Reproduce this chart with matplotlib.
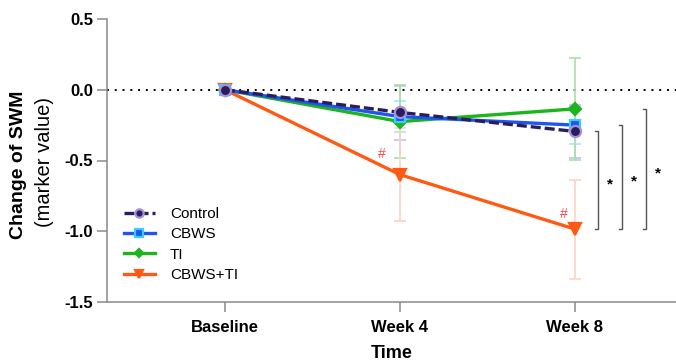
import matplotlib.pyplot as plt

plt.rcParams['font.family'] = ['Liberation Sans', 'DejaVu Sans']
plt.rcParams['axes.unicode_minus'] = False

# data
timepoints = ["Baseline", "Week 4", "Week 8"]
groups = ["Control", "CBWS", "TI", "CBWS+TI"]
control_mean = [0.0, -0.16, -0.295]
control_sd = [0.0, 0.195, 0.19]
cbws_mean = [0.0, -0.19, -0.25]
cbws_sd = [0.0, 0.11, 0.13]
ti_mean = [0.0, -0.225, -0.135]
ti_sd = [0.0, 0.255, 0.36]
combo_mean = [0.0, -0.60, -0.985]
combo_sd = [0.0, 0.33, 0.35]
y_ticks = [0.5, 0.0, -0.5, -1.0, -1.5]

means = [control_mean, cbws_mean, ti_mean, combo_mean]
sds = [control_sd, cbws_sd, ti_sd, combo_sd]

# style per group: line colour, error colour, marker, face, edge, linestyle
styles = [
    dict(color="#2a1d5c", ecolor="#cbbde9", marker="o", mfc="#2a1d5c", mec="#a88fdc", ls=(0, (3, 1.2)), ms=8),
    dict(color="#1e55f0", ecolor="#a9e3fb", marker="s", mfc="#1e55f0", mec="#38cffc", ls="-", ms=7.5),
    dict(color="#1db41d", ecolor="#a8e2a8", marker="D", mfc="#1db41d", mec="#1db41d", ls="-", ms=6),
    dict(color="#ff5a14", ecolor="#ffd3c2", marker="v", mfc="#ff5a14", mec="#ff5a14", ls="-", ms=8),
]
zorders = [6, 5, 4, 3]

fig = plt.figure(figsize=(6.76, 3.64), dpi=100)
ax = fig.add_axes([107 / 676, 1 - 302 / 364, 1 - 107 / 676, (302 - 19) / 364])

x = list(range(len(timepoints)))

ax.axhline(0, color="black", ls=(0, (1, 3)), lw=1.4, zorder=1)

for m, s, st, z in zip(means, sds, styles, zorders):
    ax.errorbar(x, m, yerr=s, fmt="none", ecolor=st["ecolor"], elinewidth=1.2,
                capsize=4, capthick=1.2, zorder=2)

handles = []
for m, st, z, name in zip(means, styles, zorders, groups):
    h, = ax.plot(x, m, color=st["color"], ls=st["ls"], lw=2.4, marker=st["marker"],
                 ms=st["ms"], mfc=st["mfc"], mec=st["mec"], mew=1.6, zorder=z, label=name)
    handles.append(h)

# "#" marks vs baseline for the combo group
for xi, off in [(1, (-13, 10)), (2, (-8, 6))]:
    ax.annotate("#", (x[xi], combo_mean[xi]), xytext=off, textcoords="offset points",
                color="#ff4a4a", fontsize=10, ha="center", va="bottom")

# significance brackets at week 8
bx = [2.131, 2.269, 2.406]
tops = [control_mean[2], cbws_mean[2], ti_mean[2]]
bottom = combo_mean[2]
for xb, top in zip(bx, tops):
    ax.plot([xb - 0.018, xb, xb, xb - 0.018], [top, top, bottom, bottom],
            color="#555555", lw=1, clip_on=False)
    ax.text(xb + 0.068, (top + bottom) / 2 - 0.03, "*", fontsize=11, fontweight="bold",
            ha="center", va="center")

ax.set_xlim(-118 / 175, 2 + 101 / 175)
ax.set_ylim(-1.5, 0.5)
ax.set_yticks(y_ticks)
ax.set_yticklabels([f"{v:.1f}" for v in y_ticks])
ax.set_xticks(x)
ax.set_xticklabels(timepoints)

for sp in ["top", "right"]:
    ax.spines[sp].set_visible(False)
for sp in ["left", "bottom"]:
    ax.spines[sp].set_color("#8a8a8a")
    ax.spines[sp].set_linewidth(1.1)
ax.tick_params(axis="both", colors="#8a8a8a", length=7, width=1.1, pad=3)
ax.tick_params(axis="x", pad=6)
for lab in ax.get_xticklabels() + ax.get_yticklabels():
    lab.set_color("black")
    lab.set_fontweight("bold")
    lab.set_fontsize(12)

ax.set_xlabel("Time", fontsize=13, fontweight="bold", labelpad=7)

fig.text(19 / 676, 1 - 165 / 364, "Change of SWM", rotation=90, fontsize=14,
         fontweight="bold", ha="center", va="center")
fig.text(44 / 676, 1 - 162 / 364, "(marker value)", rotation=90, fontsize=14.5,
         ha="center", va="center")

ax.legend(handles=handles, loc="upper left", bbox_to_anchor=(124 / 676, 1 - 207 / 364),
          bbox_transform=fig.transFigure, frameon=False, fontsize=11, handlelength=2,
          handletextpad=1.0, labelspacing=0.42, borderpad=0, borderaxespad=0,
          markerscale=0.75)

fig.savefig("out.png", dpi=100)
